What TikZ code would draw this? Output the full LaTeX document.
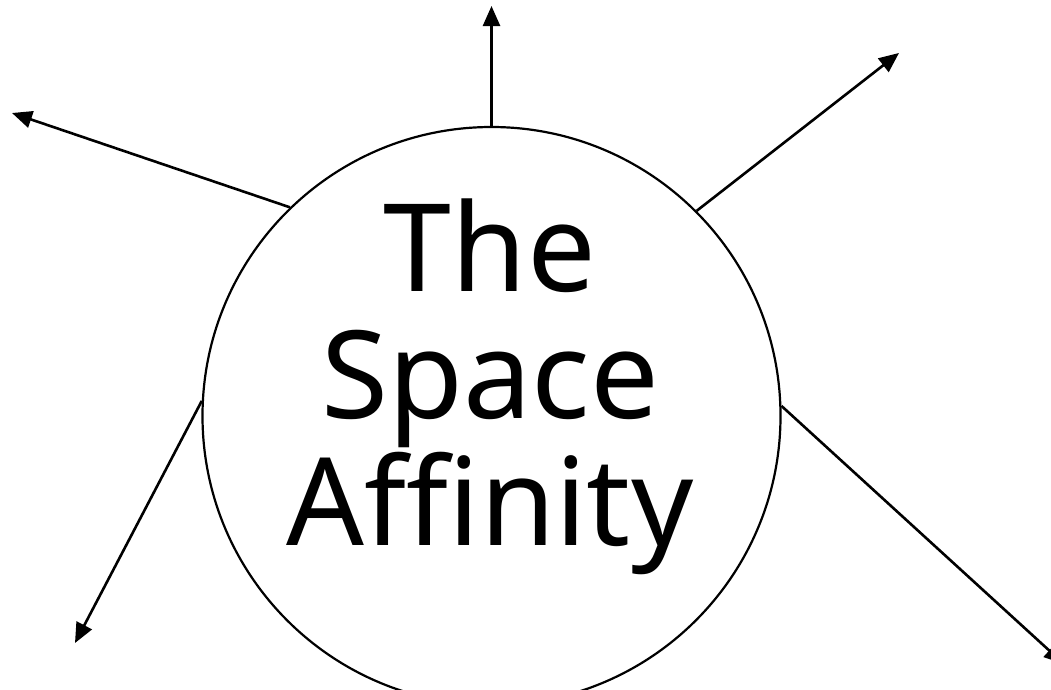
\documentclass[tikz,border=0pt]{standalone}
\usepackage{fontspec}
\setmainfont{Noto Sans}
\usetikzlibrary{arrows.meta}
\begin{document}
\begin{tikzpicture}[x=1pt,y=-1pt,
  ring/.style={circle,draw,line width=2.2pt,minimum size=578pt,inner sep=0pt},
  arr/.style={line width=2.6pt,-{Triangle[length=20pt,width=17pt]}},
  title/.style={font=\fontsize{122}{127}\selectfont,align=center,inner sep=0pt}]
\useasboundingbox (0,0) rectangle (1051,689);
\node[ring] (c) at (491.5,416) {};
\node[title,anchor=base] (t) at (490,545) {The\\Space\\Affinity};
\coordinate (eT) at (491.5,6);
\coordinate (eUL) at (12,113);
\coordinate (eUR) at (899,53);
\coordinate (eLL) at (75,643);
\coordinate (eLR) at (1064,664);
\draw[arr] (c.90) -- (eT);
\draw[arr] (c.134.8) -- (eUL);
\draw[arr] (c.45.3) -- (eUR);
\draw[arr] (c.177.8) -- (eLL);
\draw[arr] (c.2.2) -- (eLR);
\end{tikzpicture}
\end{document}
